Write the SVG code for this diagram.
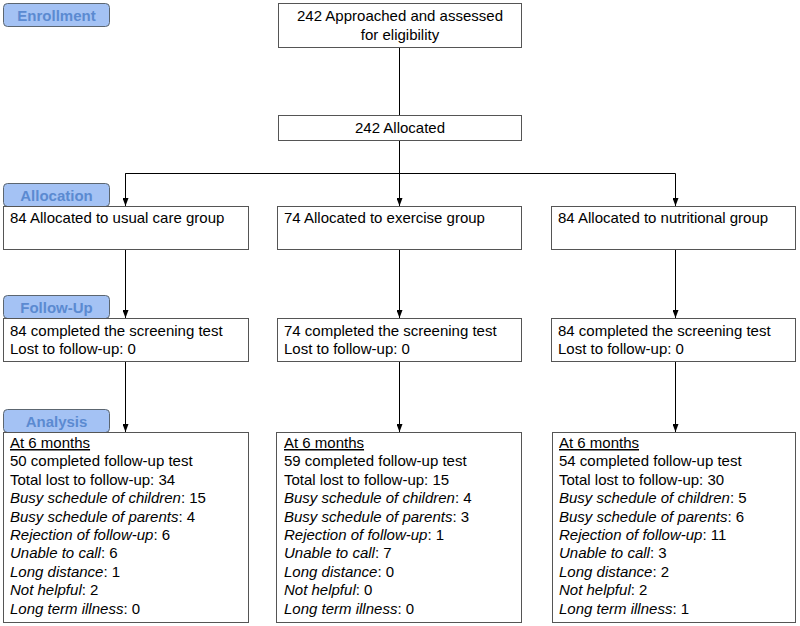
<svg xmlns="http://www.w3.org/2000/svg" width="800" height="626" viewBox="0 0 800 626">
<defs>
<marker id="ah" markerWidth="8" markerHeight="6" refX="8" refY="3" orient="auto" markerUnits="userSpaceOnUse">
<path d="M0,0 L8,3 L0,6 Z" fill="#000"/>
</marker>
<style>
.box{fill:#fff;stroke:#555;stroke-width:1}
.lab{fill:#a4c2f4;stroke:#5c6670;stroke-width:1}
.lt{font-family:"Liberation Sans",Arial,sans-serif;font-size:15px;font-weight:bold;fill:#5b8ad1;text-anchor:middle}
.t{font-family:"Liberation Sans",Arial,sans-serif;font-size:15px;fill:#000}
.c{text-anchor:middle}
.i{font-style:italic}
.u{text-decoration:underline}
.ln{stroke:#000;stroke-width:1;fill:none}
</style>
</defs>
<rect width="800" height="626" fill="#fff"/>

<g id="label-enrollment"><rect class="lab" x="3.5" y="3.5" width="106" height="23" rx="4"/><text class="lt" x="56.5" y="20.5">Enrollment</text></g>
<g id="label-allocation"><rect class="lab" x="3.5" y="183.5" width="106" height="23" rx="4"/><text class="lt" x="56.5" y="200.5">Allocation</text></g>
<g id="label-followup"><rect class="lab" x="3.5" y="295.5" width="106" height="23" rx="4"/><text class="lt" x="56.5" y="312.5">Follow-Up</text></g>
<g id="label-analysis"><rect class="lab" x="3.5" y="409.5" width="106" height="23" rx="4"/><text class="lt" x="56.5" y="426.5">Analysis</text></g>

<g id="connectors">
<path class="ln" d="M399.5,47 V115"/>
<path class="ln" d="M399.5,140 V206" marker-end="url(#ah)"/>
<path class="ln" d="M125.5,206 V173.5 H675.5 V206" marker-end="url(#ah)"/>
<path class="ln" d="M125.5,173.5 V206" marker-end="url(#ah)"/>
<path class="ln" d="M125.5,249 V318" marker-end="url(#ah)"/>
<path class="ln" d="M399.5,249 V318" marker-end="url(#ah)"/>
<path class="ln" d="M675.5,249 V318" marker-end="url(#ah)"/>
<path class="ln" d="M125.5,362 V432" marker-end="url(#ah)"/>
<path class="ln" d="M399.5,362 V432" marker-end="url(#ah)"/>
<path class="ln" d="M675.5,362 V432" marker-end="url(#ah)"/>
</g>

<g id="approached"><rect class="box" x="278.5" y="3.5" width="243" height="44"/>
<text class="t c" x="400" y="21">242 Approached and assessed</text>
<text class="t c" x="400" y="40">for eligibility</text></g>

<g id="allocated"><rect class="box" x="278.5" y="115.5" width="243" height="25"/>
<text class="t c" x="400" y="133">242 Allocated</text></g>

<g id="alloc-usual"><rect class="box" x="3.5" y="206.5" width="245" height="43"/>
<text class="t" x="10" y="223">84 Allocated to usual care group</text></g>
<g id="alloc-exercise"><rect class="box" x="277.5" y="206.5" width="244" height="43"/>
<text class="t" x="284" y="223">74 Allocated to exercise group</text></g>
<g id="alloc-nutritional"><rect class="box" x="551.5" y="206.5" width="244" height="43"/>
<text class="t" x="558" y="223">84 Allocated to nutritional group</text></g>

<g id="fu-usual"><rect class="box" x="3.5" y="318.5" width="245" height="43"/>
<text class="t" x="10" y="336">84 completed the screening test</text>
<text class="t" x="10" y="354">Lost to follow-up: 0</text></g>
<g id="fu-exercise"><rect class="box" x="277.5" y="318.5" width="244" height="43"/>
<text class="t" x="284" y="336">74 completed the screening test</text>
<text class="t" x="284" y="354">Lost to follow-up: 0</text></g>
<g id="fu-nutritional"><rect class="box" x="551.5" y="318.5" width="244" height="43"/>
<text class="t" x="558" y="336">84 completed the screening test</text>
<text class="t" x="558" y="354">Lost to follow-up: 0</text></g>

<g id="an-usual"><rect class="box" x="3.5" y="432.5" width="245" height="190"/>
<text class="t u" x="10" y="448">At 6 months</text>
<text class="t" x="10" y="466.4">50 completed follow-up test</text>
<text class="t" x="10" y="484.8">Total lost to follow-up: 34</text>
<text class="t" x="10" y="503.2"><tspan class="i">Busy schedule of children</tspan>: 15</text>
<text class="t" x="10" y="521.6"><tspan class="i">Busy schedule of parents</tspan>: 4</text>
<text class="t" x="10" y="540"><tspan class="i">Rejection of follow-up</tspan>: 6</text>
<text class="t" x="10" y="558.4"><tspan class="i">Unable to call</tspan>: 6</text>
<text class="t" x="10" y="576.8"><tspan class="i">Long distance</tspan>: 1</text>
<text class="t" x="10" y="595.2"><tspan class="i">Not helpful</tspan>: 2</text>
<text class="t" x="10" y="613.6"><tspan class="i">Long term illness</tspan>: 0</text></g>

<g id="an-exercise"><rect class="box" x="276.5" y="432.5" width="245" height="190"/>
<text class="t u" x="284" y="448">At 6 months</text>
<text class="t" x="284" y="466.4">59 completed follow-up test</text>
<text class="t" x="284" y="484.8">Total lost to follow-up: 15</text>
<text class="t" x="284" y="503.2"><tspan class="i">Busy schedule of children</tspan>: 4</text>
<text class="t" x="284" y="521.6"><tspan class="i">Busy schedule of parents</tspan>: 3</text>
<text class="t" x="284" y="540"><tspan class="i">Rejection of follow-up</tspan>: 1</text>
<text class="t" x="284" y="558.4"><tspan class="i">Unable to call</tspan>: 7</text>
<text class="t" x="284" y="576.8"><tspan class="i">Long distance</tspan>: 0</text>
<text class="t" x="284" y="595.2"><tspan class="i">Not helpful</tspan>: 0</text>
<text class="t" x="284" y="613.6"><tspan class="i">Long term illness</tspan>: 0</text></g>

<g id="an-nutritional"><rect class="box" x="552.5" y="432.5" width="243" height="190"/>
<text class="t u" x="559" y="448">At 6 months</text>
<text class="t" x="559" y="466.4">54 completed follow-up test</text>
<text class="t" x="559" y="484.8">Total lost to follow-up: 30</text>
<text class="t" x="559" y="503.2"><tspan class="i">Busy schedule of children</tspan>: 5</text>
<text class="t" x="559" y="521.6"><tspan class="i">Busy schedule of parents</tspan>: 6</text>
<text class="t" x="559" y="540"><tspan class="i">Rejection of follow-up</tspan>: 11</text>
<text class="t" x="559" y="558.4"><tspan class="i">Unable to call</tspan>: 3</text>
<text class="t" x="559" y="576.8"><tspan class="i">Long distance</tspan>: 2</text>
<text class="t" x="559" y="595.2"><tspan class="i">Not helpful</tspan>: 2</text>
<text class="t" x="559" y="613.6"><tspan class="i">Long term illness</tspan>: 1</text></g>
</svg>
